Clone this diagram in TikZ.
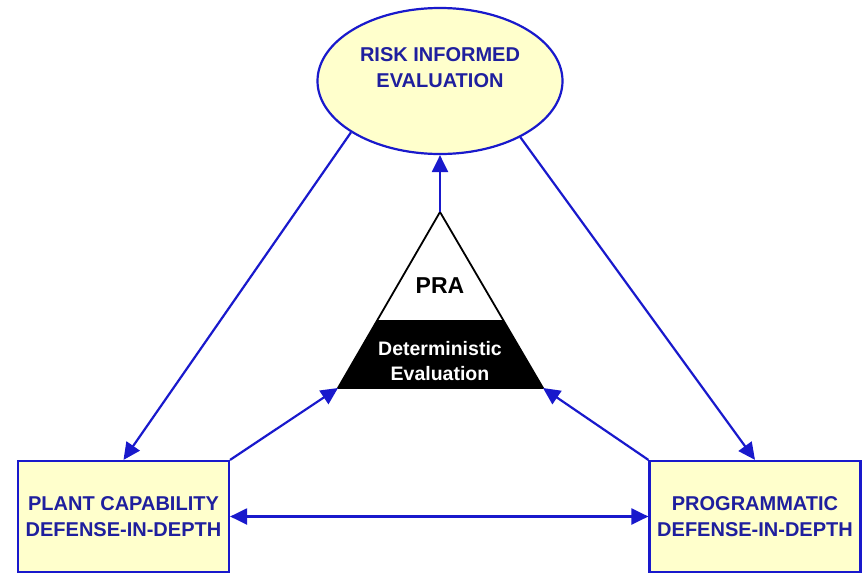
\documentclass[tikz,border=0pt]{standalone}
\usepackage{fontspec}
\setmainfont{Liberation Sans}
\usepackage{tikz}
\usetikzlibrary{shapes,arrows.meta,calc}
\definecolor{diline}{rgb}{0.10,0.10,0.80}
\definecolor{ditext}{rgb}{0.12,0.12,0.62}
\definecolor{difill}{rgb}{1.00,1.00,0.80}
\tikzstyle{dibox}=[rectangle, draw=diline, line width=2.2pt, fill=difill, minimum height=111pt, minimum width=211pt]
\tikzstyle{dievaluation}=[ellipse, draw=diline, line width=2.2pt, fill=difill, minimum height=146pt, minimum width=245pt]
\tikzstyle{dilabel}=[text=ditext, font=\fontsize{20}{26}\selectfont\bfseries, align=center]
\tikzstyle{dilink}=[draw=diline, line width=2.2pt, -{Triangle[length=17pt,width=16pt]}]
\tikzstyle{dilinkboth}=[draw=diline, line width=2.2pt, {Triangle[length=17pt,width=16pt]}-{Triangle[length=17pt,width=16pt]}]
\newcommand{\dibox}[3]{
	\node[dibox] (#1) at (#2) {};
	\node[dilabel] (#1-text) at (#2) {#3};}
\newcommand{\dievaluation}[4]{
	\node[dievaluation] (#1) at (#2) {};
	\node[dilabel] (#1-text) at (#3) {#4};}

\begin{document}
\begin{tikzpicture}[x=1pt,y=-1pt]
	\useasboundingbox (0,0) rectangle (865,573);
	\dievaluation{risk}{440,81}{440,68}{RISK INFORMED\\EVALUATION}
	\dibox{plant}{123.5,516.5}{PLANT CAPABILITY\\DEFENSE-IN-DEPTH}
	\dibox{program}{755,516.5}{PROGRAMMATIC\\DEFENSE-IN-DEPTH}
	
	% triangle
	\coordinate (apex) at (440,212);
	\coordinate (baseleft) at (338,388);
	\coordinate (baseright) at (543,388);
	\fill[black] ($(apex)!0.614!(baseleft)$) -- (baseleft) -- (baseright) -- ($(apex)!0.614!(baseright)$) -- cycle;
	\draw[line width=1.8pt] (apex) -- (baseleft) -- (baseright) -- cycle;
	\node[font=\fontsize{23}{27}\selectfont\bfseries] (pra) at (440,286) {PRA};
	\node[text=white, font=\fontsize{19.5}{25}\selectfont\bfseries, align=center] (det) at (440,361) {Deterministic\\Evaluation};
	
	\path (risk.210.6) edge[dilink] (plant.north);
	\path (risk.325) edge[dilink] (program.north);
	\path (apex) edge[dilink] (risk.south);
	\path (plant.north east) edge[dilink] (baseleft);
	\path (program.north west) edge[dilink] (baseright);
	\path (plant.east) edge[dilinkboth] (program.west);
\end{tikzpicture}
\end{document}
